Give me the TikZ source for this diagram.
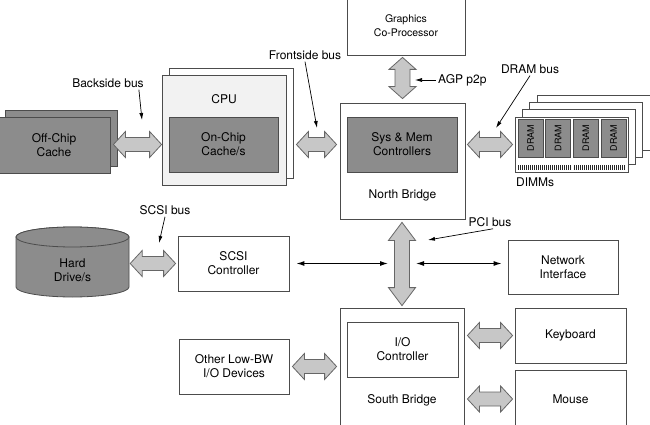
\documentclass[tikz,border=0pt]{standalone}
\usepackage{fontspec}
\setmainfont{TeX Gyre Heros}
\usepackage{tikz}
\usetikzlibrary{calc,shadows,arrows.meta}

\tikzset{
  box/.style={draw=black!70, line width=0.8pt, fill=white, align=center, inner sep=2pt},
  darkbox/.style={box, fill=black!45},
  chip/.style={darkbox, rotate=90, font=\fontsize{9}{10}\selectfont,
    minimum width=38pt, minimum height=25pt},
  card/.style={draw=black!70, line width=0.8pt, fill=white},
  disk/.style={draw=black!70, line width=0.8pt, fill=black!45},
  pins/.style={line width=5pt, black!85, dash pattern=on 1pt off 1pt},
  busfill/.style={draw=black!60, line width=0.8pt, fill=black!22, line join=miter},
  hbus/.style={busfill, to path={let \p1=(\tikztostart), \p2=(\tikztotarget) in
    (\x1,\y1) -- (\x1+#1,\y1+13pt) -- (\x1+#1,\y1+7pt) -- (\x2-#1,\y1+7pt)
    -- (\x2-#1,\y1+13pt) -- (\x2,\y1) -- (\x2-#1,\y1-13pt) -- (\x2-#1,\y1-7pt)
    -- (\x1+#1,\y1-7pt) -- (\x1+#1,\y1-13pt) -- cycle}},
  hbus/.default=12pt,
  vbus/.style={busfill, to path={let \p1=(\tikztostart), \p2=(\tikztotarget) in
    (\x2,\y1) -- (\x2+13.5pt,\y1-#1) -- (\x2+7.5pt,\y1-#1) -- (\x2+7.5pt,\y2+#1)
    -- (\x2+13.5pt,\y2+#1) -- (\x2,\y2) -- (\x2-13.5pt,\y2+#1) -- (\x2-7.5pt,\y2+#1)
    -- (\x2-7.5pt,\y1-#1) -- (\x2-13.5pt,\y1-#1) -- cycle}},
  vbus/.default=12pt,
  lbl/.style={inner sep=2pt},
  pointer/.style={black, line width=0.7pt, -{Latex[length=7pt,width=4pt]}},
  link/.style={black, line width=1.1pt, {Latex[length=8pt,width=5pt]}-{Latex[length=8pt,width=5pt]}}
}

\begin{document}
\begin{tikzpicture}[x=1pt, y=-1pt, font=\fontsize{12}{14}\selectfont]
  \useasboundingbox (0,0) rectangle (650,425);

  %% Off-chip cache and CPU
  \node[darkbox, minimum width=112pt, minimum height=56pt,
    copy shadow={shadow xshift=7pt, shadow yshift=7pt, fill=black!45, draw=black!70, line width=0.8pt}]
    (offchip) at (54,145) {Off-Chip\\Cache};
  \node[box, fill=black!5, minimum width=124pt, minimum height=110pt,
    copy shadow={shadow xshift=7pt, shadow yshift=7pt, fill=white, draw=black!70, line width=0.8pt}]
    (cpu) at (224,130) {};
  \node[lbl] (cpulbl) at (224,99) {CPU};
  \node[darkbox, minimum width=109pt, minimum height=55pt] (onchip) at (223.5,144.5) {On-Chip\\Cache/s};

  %% North bridge and graphics
  \node[box, font=\fontsize{10.5}{14}\selectfont, minimum width=118pt, minimum height=58pt]
    (gfx) at (406,26) {Graphics\\Co-Processor};
  \node[box, minimum width=125pt, minimum height=116pt] (nb) at (402.5,161) {};
  \node[darkbox, minimum width=110pt, minimum height=55pt] (sysmem) at (402,144.5) {Sys \& Mem\\Controllers};
  \node[lbl] (nblbl) at (402.5,195) {North Bridge};

  %% DIMMs: three cards behind the front one
  \foreach \k in {3,2,1}
    \draw[card] (515+7.3*\k, 117-7.3*\k) rectangle ++(113,55);
  \node[box, minimum width=113pt, minimum height=55pt] (dimm) at (571.5,144.5) {};
  \foreach \i in {0,1,2,3}
    \node[chip] (chip\i) at (530.5+27.7*\i,138) {DRAM};
  \draw[pins] (518,167.5) -- (571,167.5);
  \draw[pins] (574,167.5) -- (626,167.5);
  \node[lbl, anchor=west] (dimmlbl) at (514,182) {DIMMs};

  %% Hard drive
  \draw[disk] (16,237) -- (16,287) arc[start angle=180, end angle=360, x radius=56.5pt, y radius=10pt]
    -- (129,237) arc[start angle=0, end angle=180, x radius=56.5pt, y radius=10pt] -- cycle;
  \draw[disk] (72.5,237) ellipse [x radius=56.5pt, y radius=10pt];
  \node[align=center, minimum width=113pt, minimum height=50pt] (hdd) at (72.5,270) {Hard\\Drive/s};

  %% PCI devices and south bridge
  \node[box, minimum width=111pt, minimum height=55pt] (scsi) at (233.5,263.5) {SCSI\\Controller};
  \node[box, minimum width=110pt, minimum height=54pt] (net) at (563,267) {Network\\Interface};
  \node[box, minimum width=110pt, minimum height=55pt] (other) at (234,366.5) {Other Low-BW\\I/O Devices};
  \node[box, minimum width=124pt, minimum height=124pt] (sb) at (402,370) {};
  \node[box, minimum width=111pt, minimum height=55pt] (ioc) at (402.5,349.5) {I/O\\Controller};
  \node[lbl] (sblbl) at (402,400) {South Bridge};
  \node[box, minimum width=111pt, minimum height=55pt] (kbd) at (570.5,335.5) {Keyboard};
  \node[box, minimum width=111pt, minimum height=58pt] (mouse) at (570.5,399) {Mouse};

  %% Buses
  \draw[hbus] ([xshift=3pt]offchip.east |- onchip.west) to (cpu.west |- onchip.west);
  \draw[hbus] ([xshift=10pt]cpu.east |- onchip.east) to ([xshift=-3pt]nb.west |- sysmem.west);
  \draw[hbus] ([xshift=2pt]nb.east |- sysmem.east) to ([xshift=-2pt]dimm.west);
  \draw[vbus] ([yshift=-2pt]gfx.south) to ([yshift=4pt]nb.north);
  \draw[vbus=18pt] ([yshift=-3pt]nb.south) to ([yshift=2pt]sb.north);
  \draw[hbus] ([xshift=1pt]hdd.east |- scsi.west) to ([xshift=-2pt]scsi.west);
  \draw[hbus] ([xshift=3pt]other.east) to ([xshift=-3pt]sb.west |- other.east);
  \draw[hbus] ([xshift=3pt]sb.east |- kbd.west) to ([xshift=-2pt]kbd.west);
  \draw[hbus] ([xshift=3pt]sb.east |- mouse.west) to ([xshift=-2pt]mouse.west);

  \coordinate (pcil) at (388,263.5);
  \coordinate (pcir) at (416,263.5);
  \draw[link] ([xshift=7pt]scsi.east) -- (pcil);
  \draw[link] (pcir) -- ([xshift=-6pt]net.west |- pcir);

  %% Bus labels
  \node[lbl] (bslbl) at (108,83) {Backside bus};
  \node[lbl] (fslbl) at (305,55) {Frontside bus};
  \node[lbl, anchor=west] (agplbl) at (436,80) {AGP p2p};
  \node[lbl] (dramlbl) at (530,69) {DRAM bus};
  \node[lbl] (scsilbl) at (165,210) {SCSI bus};
  \node[lbl] (pcilbl) at (490,222) {PCI bus};

  \coordinate (bstip) at (142,120);
  \coordinate (fstip) at (317,128);
  \coordinate (agptip) at (415,80);
  \coordinate (dramtip) at (496,128);
  \coordinate (scsitip) at (159,243);
  \coordinate (pcitip) at (428,240);

  \draw[pointer] ([xshift=-7pt]bslbl.south east) -- (bstip);
  \draw[pointer] (fslbl.south) -- (fstip);
  \draw[pointer] (agplbl.west) -- (agptip);
  \draw[pointer] (dramlbl.south) -- (dramtip);
  \draw[pointer] (scsilbl.south) -- (scsitip);
  \draw[pointer] ([xshift=3pt]pcilbl.south) -- (pcitip);
\end{tikzpicture}
\end{document}
